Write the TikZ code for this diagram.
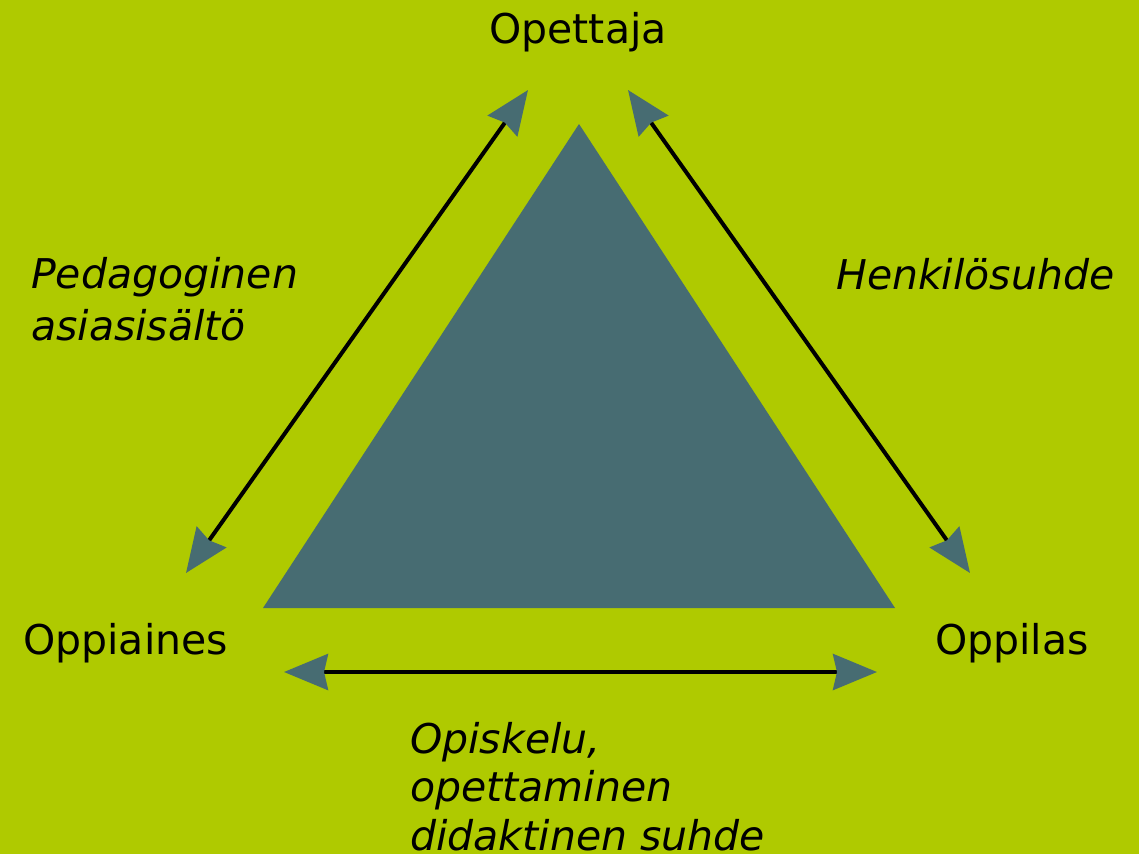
\documentclass[tikz,border=0pt]{standalone}
\usepackage{fontspec}
\setmainfont{DejaVu Sans}
\usetikzlibrary{arrows.meta}
\definecolor{bg}{RGB}{175,202,0}
\definecolor{tri}{RGB}{71,108,114}
\tikzset{
  lbl/.style={inner sep=0pt, font=\fontsize{41}{50}\selectfont, text=black},
  rel/.style={inner sep=0pt, text=black, align=left},
  dbl/.style={line width=4pt, draw=black,
    {Stealth[length=44pt,width=36pt,inset=4pt,color=tri]}-{Stealth[length=44pt,width=36pt,inset=4pt,color=tri]}}
}
\begin{document}
\begin{tikzpicture}[x=1pt,y=-1pt]
\fill[bg] (0,0) rectangle (1139,854);
\useasboundingbox (0,0) rectangle (1139,854);
% central triangle
\fill[tri] (579,124) -- (895,608) -- (263,608) -- cycle;
% labels
\node[lbl, anchor=base] (opettaja) at (578,43) {Opettaja};
\node[lbl, anchor=base west] (oppiaines) at (23,654) {Oppiaines};
\node[lbl, anchor=base west] (oppilas) at (935,654) {Oppilas};
\node[rel, font=\fontsize{41}{52}\selectfont\itshape, anchor=base west] (peda) at (31,340) {Pedagoginen\\asiasisältö};
\node[rel, font=\fontsize{41}{52}\selectfont\itshape, anchor=base west] (henk) at (836,289) {Henkilösuhde};
\node[rel, font=\fontsize{41}{48.5}\selectfont\itshape, anchor=base west] (opis) at (410,850) {Opiskelu,\\opettaminen\\didaktinen suhde};
% arrow end points
\coordinate (tlTop) at (528,90);
\coordinate (tlBot) at (186,573);
\coordinate (trTop) at (628,90);
\coordinate (trBot) at (970,573);
\coordinate (bL) at (284,672);
\coordinate (bR) at (877,672);
\draw[dbl] (tlBot) -- (tlTop);
\draw[dbl] (trTop) -- (trBot);
\draw[dbl] (bL) -- (bR);
\end{tikzpicture}
\end{document}
